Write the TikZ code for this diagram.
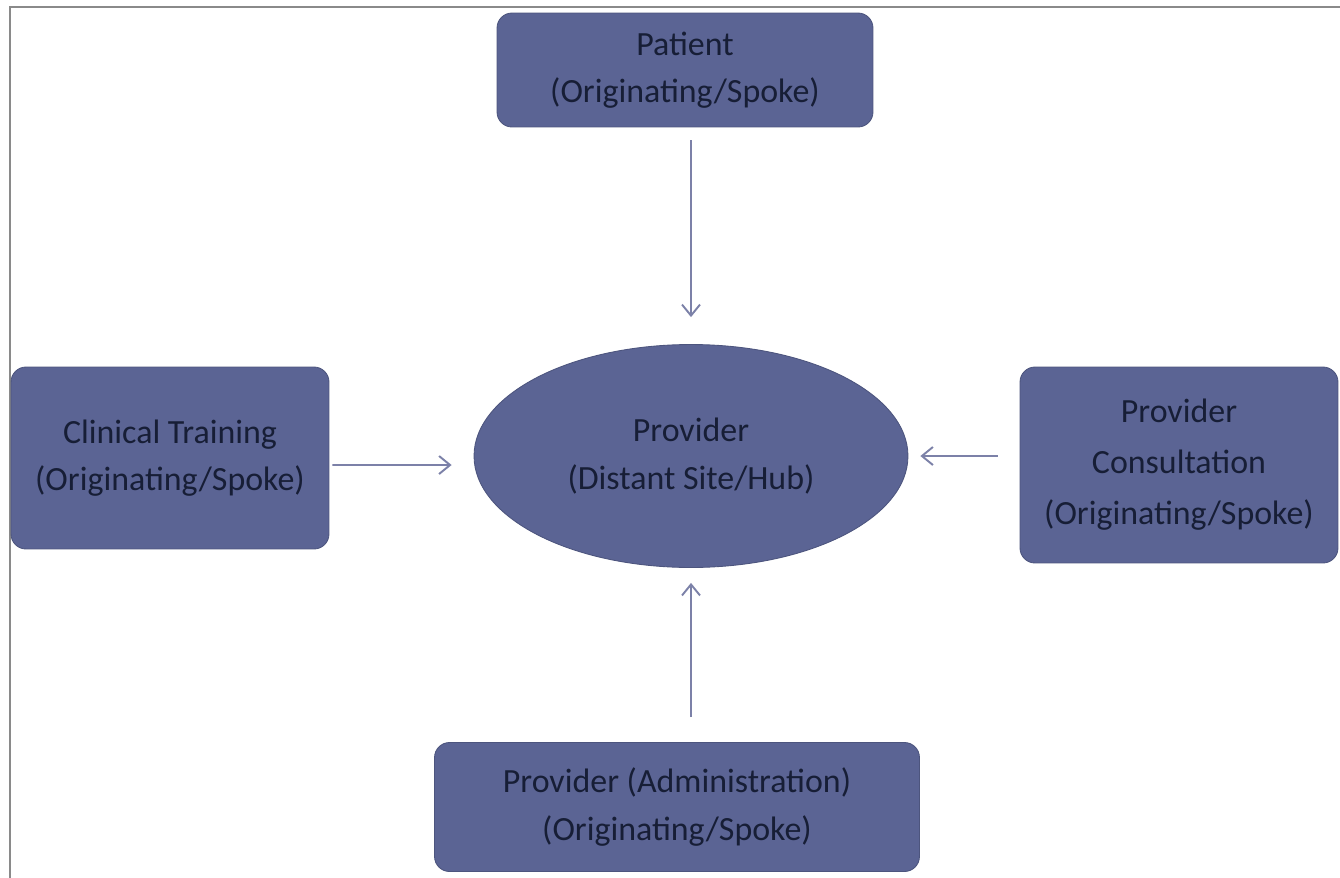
\documentclass[tikz,border=0pt]{standalone}
\usepackage{fontspec}
\setmainfont{Carlito}
\usetikzlibrary{arrows.meta, shapes.geometric}
\definecolor{spokefill}{HTML}{5B6494}
\definecolor{spoketext}{HTML}{171E36}
\definecolor{spokearrow}{HTML}{7C81A8}
\definecolor{framegray}{HTML}{8A8A8A}
\tikzset{
  spoke/.style={draw=spokefill!85!black, fill=spokefill, rounded corners=0.3cm,
                text=spoketext, font=\fontsize{19.3}{27}\selectfont,
                align=center, inner sep=0pt, line width=0.5pt},
  hubnode/.style={spoke, ellipse, rounded corners=0pt},
  feed/.style={-{Straight Barb[length=2.2mm, width=3.6mm]}, line width=1.1pt, spokearrow},
}

\begin{document}
\begin{tikzpicture}[x=0.02cm, y=-0.02cm]
    \useasboundingbox (0,0) rectangle (1340,877);
    \clip (0,0) rectangle (1340,877);
    \draw[framegray, line width=1.5pt] (10,7) rectangle (1360,900);
    \node[spoke, minimum width=7.52cm, minimum height=2.28cm] (pat) at (685,70) {Patient\\(Originating/Spoke)};
    \node[spoke, minimum width=6.36cm, minimum height=3.64cm] (clin) at (170,458) {Clinical Training\\(Originating/Spoke)};
    \node[spoke, minimum width=6.36cm, minimum height=3.92cm, font=\fontsize{19.3}{29}\selectfont] (cons) at (1179,465) {Provider\\Consultation\\(Originating/Spoke)};
    \node[spoke, minimum width=9.7cm, minimum height=2.58cm] (admin) at (677,807) {Provider (Administration)\\(Originating/Spoke)};
    \node[hubnode, minimum width=8.68cm, minimum height=4.46cm] (hub) at (691,456) {Provider\\(Distant Site/Hub)};
    \draw[feed, shorten <=0.26cm, shorten >=0.54cm] (hub.north |- pat.south) -- (hub.north);
    \draw[feed, shorten <=0.5cm, shorten >=0.3cm] (hub.south |- admin.north) -- (hub.south);
    \draw[feed, shorten <=0.06cm, shorten >=0.44cm] ([yshift=-0.14cm]clin.east) -- ([yshift=-0.18cm]hub.west);
    \draw[feed, shorten <=0.44cm, shorten >=0.24cm] (cons.west |- hub.east) -- (hub.east);
  \end{tikzpicture}
\end{document}
